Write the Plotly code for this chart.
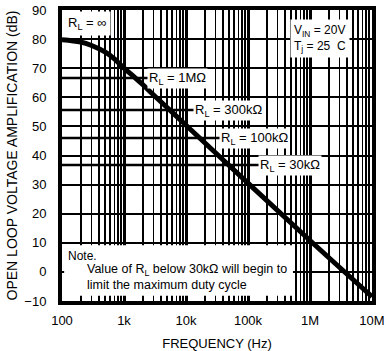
import math
import plotly.graph_objects as go

# ---- data ----
freq_hz = [100, 200, 300, 500, 700, 1000, 1500, 2000, 3000, 5000, 10000,
           100000, 1000000, 10000000]
gain_db_inf = [79.8, 79.0, 77.8, 75.5, 73.2, 70.0, 66.8, 64.4, 60.8, 56.4, 50.4,
               30.5, 10.8, -8.5]

rl_names = ["1MΩ", "300kΩ", "100kΩ", "30kΩ"]
rl_levels_db = [66.6, 55.6, 46.0, 36.7]
rl_line_end_hz = [20000, 170000, 430000, 1100000]
rl_label_hz = [7400, 48000, 129000, 480000]

x_tick_vals = [100, 1000, 10000, 100000, 1000000, 10000000]
x_tick_text = ["100", "1k", "10k", "100k", "1M", "10M"]
y_tick_vals = [90, 80, 70, 60, 50, 40, 30, 20, 10, 0, -10]
y_tick_text = ["90", "80", "70", "60", "50", "40", "30", "20", "10", "0", "\u221210"]
minor_vals = [k * 10 ** d for d in range(2, 7) for k in range(2, 10)]

FONT = "Liberation Sans, Arial, sans-serif"

fig = go.Figure()

# RL load lines
for name, lvl, xe in zip(rl_names, rl_levels_db, rl_line_end_hz):
    fig.add_trace(go.Scatter(x=[freq_hz[0], xe], y=[lvl, lvl], mode="lines",
                             line=dict(color="black", width=2.5),
                             hoverinfo="skip", showlegend=False))

# main curve (RL = infinity)
fig.add_trace(go.Scatter(x=freq_hz, y=gain_db_inf, mode="lines",
                         line=dict(color="black", width=5, shape="spline"),
                         showlegend=False))

# RL labels
for name, lvl, xl in zip(rl_names, rl_levels_db, rl_label_hz):
    fig.add_annotation(x=math.log10(xl), y=lvl, xref="x", yref="y",
                       text="R<sub>L</sub> = " + name, showarrow=False,
                       bgcolor="white", borderpad=1,
                       font=dict(family=FONT, size=13, color="black"))

fig.add_annotation(x=0.005, y=0.995, xref="paper", yref="paper",
                   xanchor="left", yanchor="top",
                   text="R<sub>L</sub> = \u221e", showarrow=False,
                   bgcolor="white", borderpad=3,
                   font=dict(family=FONT, size=13, color="black"))

fig.add_annotation(x=0.735, y=0.968, xref="paper", yref="paper",
                   xanchor="left", yanchor="top", align="left",
                   text="V<sub>IN</sub> = 20V<br>T<sub>j</sub> = 25  C", showarrow=False,
                   bgcolor="white", borderpad=3,
                   font=dict(family=FONT, size=12, color="black"))

# Note box
fig.add_shape(type="rect", xref="paper", yref="y", x0=0.007, x1=0.745,
              y0=-8.2, y1=9.2, fillcolor="white", line=dict(width=0),
              layer="above")
fig.add_annotation(x=0.012, y=5.6, xref="paper", yref="y", xanchor="left",
                   text="Note.", showarrow=False,
                   font=dict(family=FONT, size=12, color="black"))
fig.add_annotation(x=0.074, y=0.5, xref="paper", yref="y", xanchor="left",
                   align="left",
                   text="Value of R<sub>L</sub> below 30kΩ will begin to",
                   showarrow=False,
                   font=dict(family=FONT, size=12.5, color="black"))
fig.add_annotation(x=0.074, y=-4.6, xref="paper", yref="y", xanchor="left",
                   text="limit the maximum duty cycle", showarrow=False,
                   font=dict(family=FONT, size=12.5, color="black"))

fig.update_layout(
    width=389, height=351,
    margin=dict(l=62, r=17, t=10, b=50),
    paper_bgcolor="white", plot_bgcolor="white",
    font=dict(family=FONT, size=12, color="black"),
    showlegend=False,
)
fig.update_xaxes(
    type="log", range=[2, 7], automargin=False,
    tickmode="array", tickvals=x_tick_vals, ticktext=x_tick_text,
    showgrid=True, gridcolor="black", gridwidth=3,
    minor=dict(tickmode="array", tickvals=minor_vals, showgrid=True,
               gridcolor="black", gridwidth=1.8),
    showline=True, linecolor="black", linewidth=4, mirror=True,
    ticks="", ticklabelstandoff=4, ticklabeloverflow="allow",
    tickfont=dict(family=FONT, size=13),
    title=dict(text="FREQUENCY (Hz)", standoff=14,
               font=dict(family=FONT, size=13)),
    zeroline=False,
)
fig.update_yaxes(
    range=[-10, 90], automargin=False,
    tickmode="array", tickvals=y_tick_vals, ticktext=y_tick_text,
    showgrid=True, gridcolor="black", gridwidth=2,
    showline=True, linecolor="black", linewidth=4, mirror=True,
    ticks="", ticklabelstandoff=9, ticklabeloverflow="allow",
    tickfont=dict(family=FONT, size=13),
    title=dict(text="OPEN LOOP VOLTAGE AMPLIFICATION (dB)", standoff=4,
               font=dict(family=FONT, size=14)),
    zeroline=False,
)

fig.write_html("out.html",
               config={"displayModeBar": False, "staticPlot": True},
               post_script="document.body.style.margin='0';"
                           "document.body.style.overflow='hidden';")
